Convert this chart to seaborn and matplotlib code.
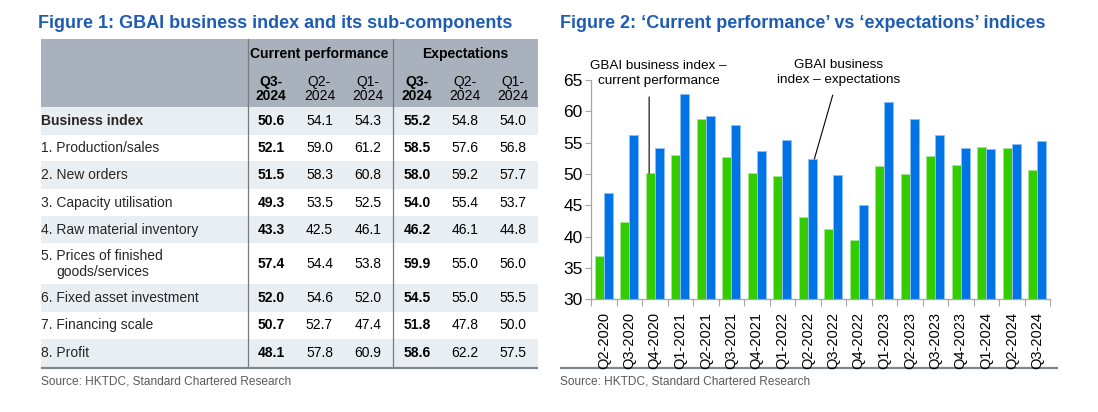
import numpy as np
import pandas as pd
import matplotlib
matplotlib.use("Agg")
import matplotlib.pyplot as plt
import matplotlib.colors as mcolors
from matplotlib.patches import Rectangle
import seaborn as sns

# ---------------- data ----------------
row_labels = ["Business index", "1. Production/sales", "2. New orders",
              "3. Capacity utilisation", "4. Raw material inventory",
              "5. Prices of finished\ngoods/services", "6. Fixed asset investment",
              "7. Financing scale", "8. Profit"]
cur_q3 = [50.6, 52.1, 51.5, 49.3, 43.3, 57.4, 52.0, 50.7, 48.1]
cur_q2 = [54.1, 59.0, 58.3, 53.5, 42.5, 54.4, 54.6, 52.7, 57.8]
cur_q1 = [54.3, 61.2, 60.8, 52.5, 46.1, 53.8, 52.0, 47.4, 60.9]
exp_q3 = [55.2, 58.5, 58.0, 54.0, 46.2, 59.9, 54.5, 51.8, 58.6]
exp_q2 = [54.8, 57.6, 59.2, 55.4, 46.1, 55.0, 55.0, 47.8, 62.2]
exp_q1 = [54.0, 56.8, 57.7, 53.7, 44.8, 56.0, 55.5, 50.0, 57.5]
col_groups = ["Current performance", "Expectations"]
col_heads = ["Q3-\n2024", "Q2-\n2024", "Q1-\n2024", "Q3-\n2024", "Q2-\n2024", "Q1-\n2024"]

quarters = ["Q2-2020", "Q3-2020", "Q4-2020", "Q1-2021", "Q2-2021", "Q3-2021",
            "Q4-2021", "Q1-2022", "Q2-2022", "Q3-2022", "Q4-2022", "Q1-2023",
            "Q2-2023", "Q3-2023", "Q4-2023", "Q1-2024", "Q2-2024", "Q3-2024"]
current_perf = [36.9, 42.3, 50.1, 53.0, 58.7, 52.7, 50.2, 49.6, 43.2,
                41.2, 39.5, 51.3, 50.0, 52.9, 51.4, 54.3, 54.1, 50.6]
expectations = [47.0, 56.2, 54.1, 62.7, 59.3, 57.8, 53.6, 55.5, 52.4,
                49.8, 45.0, 61.5, 58.7, 56.3, 54.1, 54.0, 54.8, 55.2]
series_names = ["GBAI business index \u2013\ncurrent performance",
                "GBAI business\nindex \u2013 expectations"]

# ---------------- style ----------------
sns.set_theme(style="white")
plt.rcParams['font.family'] = ['Liberation Sans', 'DejaVu Sans']

W, H = 1098, 412
fig = plt.figure(figsize=(W / 100, H / 100), dpi=100)
fig.patch.set_facecolor("white")

bg = fig.add_axes([0, 0, 1, 1])
bg.set_xlim(0, W)
bg.set_ylim(H, 0)
bg.axis("off")

title_color = "#1E5CB3"
src_color = "#595959"
fs_tab = 10

# ---------------- titles ----------------
bg.text(38, 28, "Figure 1: GBAI business index and its sub-components",
        fontsize=12.95, fontweight="bold", color=title_color, ha="left", va="baseline")
bg.text(560, 28, "Figure 2: \u2018Current performance\u2019 vs \u2018expectations\u2019 indices",
        fontsize=12.95, fontweight="bold", color=title_color, ha="left", va="baseline")

# ---------------- table ----------------
tab_l, tab_r = 41, 538
head_t, head_b = 39, 107
row_edges = [107, 135, 161, 189, 216, 243, 284, 311.5, 339, 367]
col_x = [271, 319.5, 368, 417, 465, 513]
vlines = [247.5, 392.5]

bg.add_patch(Rectangle((tab_l, head_t), tab_r - tab_l, head_b - head_t,
                       facecolor="#A9B2BC", edgecolor="none", zorder=1))
for i in range(len(row_labels)):
    if i % 2 == 0:
        y0, y1 = row_edges[i], row_edges[i + 1]
        bg.add_patch(Rectangle((tab_l, y0), tab_r - tab_l, y1 - y0,
                               facecolor="#E9EEF3", edgecolor="none", zorder=1))
for vx in vlines:
    bg.plot([vx, vx], [head_t, row_edges[-1]], color="#7A7A7A", lw=0.9, zorder=2)
bg.plot([tab_l, tab_r], [368, 368], color="#7F8790", lw=1.6, zorder=3,
        solid_capstyle="butt")

bg.text(319.5, 53.5, col_groups[0], fontsize=fs_tab, fontweight="bold",
        ha="center", va="center", color="black", zorder=4)
bg.text(465, 53.5, col_groups[1], fontsize=fs_tab, fontweight="bold",
        ha="center", va="center", color="black", zorder=4)
for j, h in enumerate(col_heads):
    l1, l2 = h.split("\n")
    wt = "bold" if j % 3 == 0 else "normal"
    bg.text(col_x[j], 81.5, l1, fontsize=fs_tab, fontweight=wt, ha="center",
            va="center", color="black", zorder=4)
    bg.text(col_x[j], 95.5, l2, fontsize=fs_tab, fontweight=wt, ha="center",
            va="center", color="black", zorder=4)

cols = [cur_q3, cur_q2, cur_q1, exp_q3, exp_q2, exp_q1]
for i, lab in enumerate(row_labels):
    yc = (row_edges[i] + row_edges[i + 1]) / 2
    wt_lab = "bold" if i == 0 else "normal"
    if "\n" in lab:
        a, b = lab.split("\n")
        bg.text(tab_l, yc - 8, a, fontsize=fs_tab, ha="left", va="center", zorder=4)
        bg.text(tab_l + 15.5, yc + 8.5, b, fontsize=fs_tab, ha="left", va="center", zorder=4)
    else:
        bg.text(tab_l, yc, lab, fontsize=fs_tab, fontweight=wt_lab, ha="left",
                va="center", zorder=4)
    for j, col in enumerate(cols):
        wt = "bold" if j % 3 == 0 else "normal"
        bg.text(col_x[j], yc, f"{col[i]:.1f}", fontsize=fs_tab, fontweight=wt,
                ha="center", va="center", color="black", zorder=4)

bg.text(41, 382, "Source: HKTDC, Standard Chartered Research", fontsize=8.6,
        color=src_color, ha="left", va="center")

# ---------------- bar chart ----------------
ax = fig.add_axes([591 / W, (H - 299.3) / H, 459 / W, 219.3 / H])
df = pd.DataFrame({
    "quarter": quarters * 2,
    "series": [series_names[0]] * len(quarters) + [series_names[1]] * len(quarters),
    "value": current_perf + expectations,
})
green, blue = "#33CC00", "#0073E6"
sns.barplot(data=df, x="quarter", y="value", hue="series", order=quarters,
            hue_order=series_names, palette=[green, blue], width=0.7,
            saturation=1, legend=False, ax=ax, zorder=2)
for p in ax.patches:
    fc = np.array(mcolors.to_rgb(p.get_facecolor()))
    p.set_edgecolor(tuple(fc * 0.45 + 0.55))
    p.set_linewidth(0.7)

ax.set_xlim(-0.5, len(quarters) - 0.5)
ax.set_ylim(30, 65)
ax.set_yticks(range(30, 66, 5))
ax.set_xlabel("")
ax.set_ylabel("")
for s in ["top", "right"]:
    ax.spines[s].set_visible(False)
for s in ["left", "bottom"]:
    ax.spines[s].set_color("#A6A6A6")
    ax.spines[s].set_linewidth(0.9)
ax.tick_params(axis="y", left=True, length=4, width=0.8, color="#A6A6A6",
               pad=2, labelsize=12.5, labelcolor="black")
ax.set_xticks(range(len(quarters)))
ax.set_xticklabels(quarters, rotation=90, family=["Liberation Sans Narrow", "Liberation Sans"])
ax.tick_params(axis="x", which="major", bottom=False, length=0, pad=9,
               labelsize=10.5, labelcolor="black")
ax.set_xticks(np.arange(-0.5, len(quarters), 1), minor=True)
ax.tick_params(axis="x", which="minor", bottom=True, length=5, width=0.8,
               color="#A6A6A6")
ax.grid(False)

# annotations
ax.text(2.15, 66.05, series_names[0], fontsize=9.7, ha="center", va="center",
        linespacing=1.4, color="black")
ax.annotate("", xy=(2 - 0.22, current_perf[2]), xytext=(2 - 0.22, 62.3),
            arrowprops=dict(arrowstyle="-", color="black", lw=0.8,
                            shrinkA=0, shrinkB=0), annotation_clip=False)
ax.text(9.2, 66.2, series_names[1], fontsize=9.7, ha="center", va="center",
        linespacing=1.4, color="black")
ax.annotate("", xy=(8 + 0.26, expectations[8]), xytext=(8.98, 62.6),
            arrowprops=dict(arrowstyle="-", color="black", lw=0.8,
                            shrinkA=0, shrinkB=0), annotation_clip=False)

bg.plot([560, 1058], [368, 368], color="#7F8790", lw=1.6, zorder=3,
        solid_capstyle="butt")
bg.text(560, 382, "Source: HKTDC, Standard Chartered Research", fontsize=8.6,
        color=src_color, ha="left", va="center")

fig.savefig("out.png", dpi=100, facecolor="white")
